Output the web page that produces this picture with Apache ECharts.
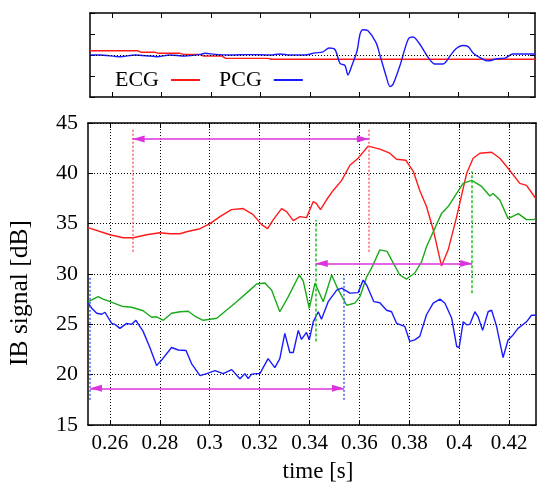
<!DOCTYPE html>
<html><head><meta charset="utf-8">
<script src="https://cdn.jsdelivr.net/npm/echarts@6/dist/echarts.min.js"></script>
<style>html,body{margin:0;padding:0;background:#fff}#c{width:537px;height:483px}</style>
</head><body><div id="c"></div><script>
// ---- data ----
const timeRange = [0.2512, 0.4308];
const xTickValues = [0.26, 0.28, 0.3, 0.32, 0.34, 0.36, 0.38, 0.4, 0.42];
const yRange = [15, 45];
const yTickStep = 5;
const topRange = [-2, 2];

// top panel signals [time, amplitude]
const ecgTop = [[0.2512,0.2],[0.2706,0.2],[0.2720,0.13],[0.2774,0.13],[0.2790,0.08],[0.2875,0.08],[0.2890,0.03],[0.2956,0.03],[0.2970,-0.05],[0.3045,-0.05],[0.3060,-0.16],[0.3230,-0.16],[0.3245,-0.2],[0.4308,-0.2]];
const pcgTop = [[0.2512,0],[0.2552,0],[0.2633,-0.08],[0.2694,0],[0.2754,-0.05],[0.2782,-0.08],[0.2835,0],[0.2895,-0.05],[0.2956,0.02],[0.2976,0.08],[0.3017,0.03],[0.3077,0],[0.3158,0.02],[0.3239,0],[0.3279,0.05],[0.3319,0],[0.3380,0],[0.3420,0.1],[0.3452,0.15],[0.3477,0.33],[0.3501,0.25],[0.3521,-0.4],[0.3541,-0.5],[0.3553,-0.95],[0.3569,-0.5],[0.3590,0.2],[0.3602,1.0],[0.3614,1.2],[0.3634,1.15],[0.3666,0.6],[0.3682,0],[0.3707,-1.0],[0.3723,-1.5],[0.3735,-1.4],[0.3763,-0.5],[0.3783,0.3],[0.3799,0.8],[0.3816,0.86],[0.3844,0.5],[0.3876,-0.1],[0.3904,-0.43],[0.3937,-0.43],[0.3965,-0.05],[0.3989,0.3],[0.4017,0.45],[0.4038,0.4],[0.4058,0.1],[0.4086,-0.12],[0.4118,-0.28],[0.4155,-0.18],[0.4187,-0.15],[0.4219,0.05],[0.4247,0.05],[0.4308,0.05]];

// main panel IB signals [time, dB]
const ibRed = [[0.2512,34.6],[0.2600,33.9],[0.2653,33.6],[0.2693,33.6],[0.2747,33.9],[0.2800,34.1],[0.2840,34.0],[0.2881,34.0],[0.2907,34.2],[0.2961,34.5],[0.3001,35.0],[0.3041,35.7],[0.3087,36.4],[0.3134,36.5],[0.3174,35.9],[0.3208,34.9],[0.3232,34.5],[0.3255,35.4],[0.3288,36.5],[0.3308,36.2],[0.3335,35.3],[0.3362,35.7],[0.3388,35.6],[0.3415,37.2],[0.3428,37.0],[0.3444,36.4],[0.3469,37.4],[0.3495,38.3],[0.3529,39.3],[0.3562,40.8],[0.3595,41.5],[0.3635,42.7],[0.3682,42.4],[0.3722,42.0],[0.3749,41.4],[0.3786,41.3],[0.3816,40.2],[0.3842,38.3],[0.3869,36.7],[0.3896,34.4],[0.3929,30.8],[0.3956,32.4],[0.3990,35.7],[0.4030,40.0],[0.4056,41.5],[0.4083,42.0],[0.4130,42.1],[0.4163,41.5],[0.4196,40.5],[0.4243,39.0],[0.4270,38.8],[0.4307,37.5]];
const ibGreen = [[0.2513,27.25],[0.2553,27.75],[0.2573,27.5],[0.2600,27.25],[0.2647,26.8],[0.2687,26.7],[0.2733,26.35],[0.2767,25.7],[0.2787,25.75],[0.2814,25.4],[0.2847,26.1],[0.2881,26.25],[0.2914,26.3],[0.2941,25.8],[0.2974,25.4],[0.3028,25.6],[0.3067,26.4],[0.3108,27.25],[0.3161,28.4],[0.3188,29.0],[0.3221,29.1],[0.3248,28.4],[0.3281,26.25],[0.3315,27.75],[0.3359,29.9],[0.3375,29.3],[0.3399,26.6],[0.3422,29.1],[0.3455,27.25],[0.3489,29.9],[0.3509,28.75],[0.3549,26.9],[0.3582,27.1],[0.3602,27.75],[0.3629,29.7],[0.3649,30.6],[0.3682,32.4],[0.3711,32.25],[0.3729,31.4],[0.3762,29.9],[0.3789,29.5],[0.3822,30.1],[0.3849,31.2],[0.3869,32.7],[0.3929,36.0],[0.3956,36.7],[0.3990,38.0],[0.4016,39.0],[0.4050,39.3],[0.4090,38.7],[0.4123,37.75],[0.4136,38.0],[0.4163,37.35],[0.4196,35.5],[0.4237,36.0],[0.4270,35.4],[0.4297,35.4],[0.4307,35.5]];
const ibBlue = [[0.2513,27.1],[0.2527,26.6],[0.2547,26.1],[0.2567,26.0],[0.2580,26.2],[0.2607,25.1],[0.2620,25.0],[0.2640,24.6],[0.2667,25.1],[0.2687,25.0],[0.2704,25.4],[0.2733,24.3],[0.2760,22.7],[0.2787,20.9],[0.2807,21.45],[0.2847,22.7],[0.2874,22.45],[0.2905,22.4],[0.2927,21.1],[0.2961,19.9],[0.2988,20.1],[0.3021,20.4],[0.3054,20.1],[0.3088,20.5],[0.3121,19.6],[0.3141,20.1],[0.3154,19.6],[0.3168,20.05],[0.3188,20.1],[0.3201,20.1],[0.3234,21.6],[0.3261,20.7],[0.3281,21.6],[0.3301,24.1],[0.3321,22.2],[0.3335,22.2],[0.3355,24.4],[0.3368,23.5],[0.3388,24.2],[0.3399,23.45],[0.3415,25.25],[0.3435,26.25],[0.3448,25.5],[0.3475,27.25],[0.3509,28.4],[0.3529,28.6],[0.3562,28.1],[0.3595,28.15],[0.3615,29.4],[0.3629,28.9],[0.3658,27.25],[0.3682,27.15],[0.3709,26.4],[0.3729,26.25],[0.3749,25.1],[0.3782,24.8],[0.3802,23.3],[0.3822,23.45],[0.3842,23.8],[0.3869,25.95],[0.3896,27.1],[0.3923,27.5],[0.3943,27.1],[0.3970,25.6],[0.3990,22.8],[0.4000,22.7],[0.4016,25.25],[0.4030,24.95],[0.4043,25.0],[0.4063,26.25],[0.4076,25.75],[0.4094,24.4],[0.4116,26.25],[0.4130,26.4],[0.4150,24.8],[0.4176,21.7],[0.4196,23.45],[0.4216,23.95],[0.4236,24.6],[0.4270,25.25],[0.4290,25.9],[0.4307,25.9]];

// annotation markers: [time, yFrom, yTo]
const redMarkers = [[0.2691, 32.2, 44.5], [0.3638, 32.2, 44.5]];
const greenMarkers = [[0.3425, 23.3, 35.4], [0.4052, 28.1, 40.2]];
const blueMarkers = [[0.2520, 17.5, 29.7], [0.3538, 17.5, 29.9]];
// interval arrows: [tFrom, tTo, y]
const intervalArrows = [[0.2691, 0.3638, 43.4], [0.3425, 0.4052, 31.05], [0.2520, 0.3538, 18.65]];

// ---- styles ----
const FONT = 'Liberation Serif';
const C_RED = '#ff1a1a', C_GREEN = '#1aaa1a', C_BLUE = '#1a1aff', C_ARROW = '#dd33dd';
const gridLine = {show: true, lineStyle: {color: '#000', width: 1, type: [1, 2]}};
const frame = {show: true, onZero: false, lineStyle: {color: '#000', width: 1.5}};

function vMarks(list, color, dash) {
  return list.map(m => [
    {coord: [m[0], m[1]], lineStyle: {color: color, width: 1.5, type: dash}},
    {coord: [m[0], m[2]]}
  ]);
}
function xAx(grid, pos, labels, split) {
  return {
    type: 'value', gridIndex: grid, position: pos, min: timeRange[0], max: timeRange[1],
    axisLine: frame,
    axisTick: {show: true, inside: true, length: 5, customValues: xTickValues, lineStyle: {color: '#000', width: 1}},
    axisLabel: labels ? {show: true, customValues: xTickValues, margin: 8, color: '#000', fontFamily: FONT, fontSize: 21} : {show: false},
    splitLine: split ? Object.assign({customValues: xTickValues}, gridLine) : {show: false}
  };
}
const head = {symbol: 'triangle', symbolSize: [7, 12], symbolOffset: [0, 6]};

const chart = echarts.init(document.getElementById('c'), null, {renderer: 'canvas'});
chart.setOption({
  animation: false,
  backgroundColor: '#fff',
  grid: [
    {left: 90, right: 2, top: 13, height: 84, outerBoundsMode: 'none', containLabel: false},
    {left: 88, right: 1, top: 123, bottom: 58, outerBoundsMode: 'none', containLabel: false}
  ],
  legend: {
    data: ['ECG', 'PCG'], left: 115, top: 69, padding: 0, align: 'right', orient: 'horizontal',
    icon: 'rect', itemWidth: 29, itemHeight: 2, itemGap: 19, selectedMode: false,
    textStyle: {fontFamily: FONT, fontSize: 22, color: '#000', padding: [0, 7, 0, 0]}
  },
  xAxis: [
    xAx(0, 'bottom', false, false),
    xAx(0, 'top', false, false),
    Object.assign(xAx(1, 'bottom', true, true), {
      name: 'time [s]', nameLocation: 'middle', nameGap: 35,
      nameTextStyle: {fontFamily: FONT, fontSize: 23, color: '#000', padding: [0, 0, 0, 12]}
    }),
    xAx(1, 'top', false, false)
  ],
  yAxis: [
    {type: 'value', gridIndex: 0, position: 'left', min: topRange[0], max: topRange[1], interval: 1,
     axisLine: frame, axisTick: {inside: true, length: 5, lineStyle: {color: '#000'}}, axisLabel: {show: false}, splitLine: {show: false}},
    {type: 'value', gridIndex: 0, position: 'right', min: topRange[0], max: topRange[1], interval: 1,
     axisLine: frame, axisTick: {inside: true, length: 5, lineStyle: {color: '#000'}}, axisLabel: {show: false}, splitLine: {show: false}},
    {type: 'value', gridIndex: 1, position: 'left', min: yRange[0], max: yRange[1], interval: yTickStep,
     axisLine: frame, axisTick: {inside: true, length: 5, lineStyle: {color: '#000'}},
     axisLabel: {margin: 10, color: '#000', fontFamily: FONT, fontSize: 22},
     splitLine: gridLine,
     name: 'IB signal [dB]', nameLocation: 'middle', nameGap: 55, nameRotate: 90,
     nameTextStyle: {fontFamily: FONT, fontSize: 25.5, color: '#000', padding: [0, 38, 0, 0]}},
    {type: 'value', gridIndex: 1, position: 'right', min: yRange[0], max: yRange[1], interval: yTickStep,
     axisLine: frame, axisTick: {inside: true, length: 5, lineStyle: {color: '#000'}}, axisLabel: {show: false}, splitLine: {show: false}}
  ],
  series: [
    {name: 'ECG', type: 'line', xAxisIndex: 0, yAxisIndex: 0, data: ecgTop, showSymbol: false, symbol: 'none',
     lineStyle: {color: C_RED, width: 1.4}, itemStyle: {color: C_RED}, z: 3,
     markLine: {silent: true, symbol: 'none', label: {show: false},
       lineStyle: {color: '#000', width: 1, type: [1, 2]}, data: [{yAxis: 0}]}},
    {name: 'PCG', type: 'line', xAxisIndex: 0, yAxisIndex: 0, data: pcgTop, showSymbol: false, symbol: 'none', smooth: 0.3,
     lineStyle: {color: C_BLUE, width: 1.4}, itemStyle: {color: C_BLUE}, z: 4},
    {name: 'IB red', type: 'line', xAxisIndex: 2, yAxisIndex: 2, data: ibRed, showSymbol: false, symbol: 'none',
     lineStyle: {color: C_RED, width: 1.4}, itemStyle: {color: C_RED}, z: 3,
     markLine: {silent: true, symbol: 'none', label: {show: false}, data: vMarks(redMarkers, '#ff6060', [2, 2])}},
    {name: 'IB green', type: 'line', xAxisIndex: 2, yAxisIndex: 2, data: ibGreen, showSymbol: false, symbol: 'none',
     lineStyle: {color: C_GREEN, width: 1.4}, itemStyle: {color: C_GREEN}, z: 3,
     markLine: {silent: true, symbol: 'none', label: {show: false}, data: vMarks(greenMarkers, '#20c020', [3, 2])}},
    {name: 'IB blue', type: 'line', xAxisIndex: 2, yAxisIndex: 2, data: ibBlue, showSymbol: false, symbol: 'none',
     lineStyle: {color: C_BLUE, width: 1.4}, itemStyle: {color: C_BLUE}, z: 3,
     markLine: {silent: true, symbol: 'none', label: {show: false}, data: vMarks(blueMarkers, '#4060ff', [2, 2])}},
    {name: 'intervals', type: 'line', xAxisIndex: 2, yAxisIndex: 2, data: [], z: 5,
     markLine: {silent: true, symbol: ['triangle', 'triangle'], symbolSize: 12, label: {show: false},
       lineStyle: {color: C_ARROW, width: 1.5, type: 'solid'},
       data: intervalArrows.map(a => [
         Object.assign({coord: [a[0], a[2]]}, head),
         Object.assign({coord: [a[1], a[2]]}, head)
       ])}}
  ]
});
</script></body></html>
